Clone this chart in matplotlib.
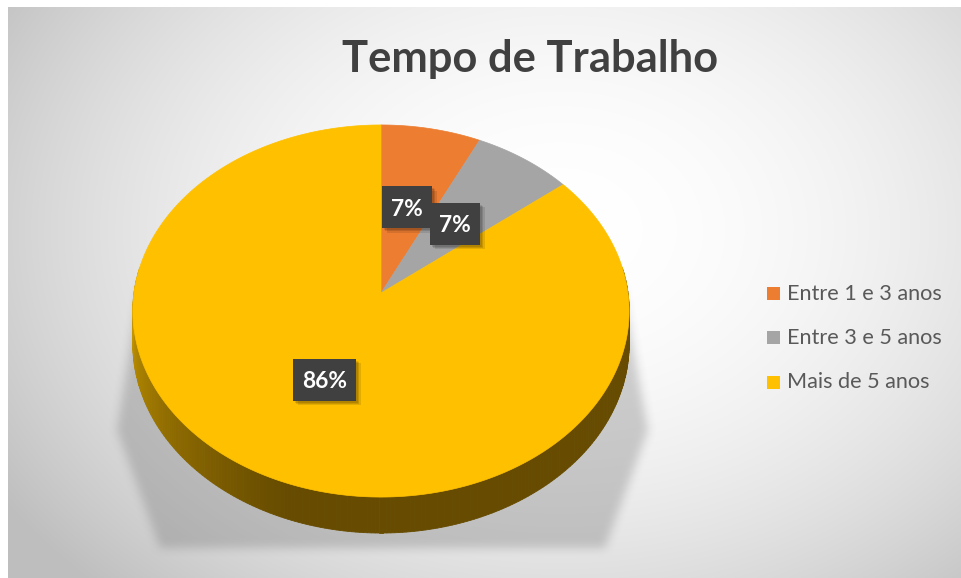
import numpy as np
import matplotlib
matplotlib.use('Agg')
import matplotlib.pyplot as plt
from matplotlib.patches import Polygon, Rectangle
from matplotlib.path import Path

title = "Tempo de Trabalho"
categories = ["Entre 1 e 3 anos", "Entre 3 e 5 anos", "Mais de 5 anos"]
values = [1, 1, 12]
colors = ["#ED7D31", "#A5A5A5", "#FFC000"]

W, H = 962, 578
fig = plt.figure(figsize=(W / 100, H / 100), dpi=100)
ax = fig.add_axes([0, 0, 1, 1])
ax.axis('off')

# ---- background (radial gradient) ----
yy, xx = np.mgrid[0:H, 0:W] + 0.5
r2 = ((xx - 560) / 560) ** 2 + ((yy - 230) / 420) ** 2
g = 255 - 46 * np.clip(r2, 0, 1.4)
bg = np.dstack([g, g, g]) / 255.0
bg[:7, :, :] = 1
bg[:, :8, :] = 1
ax.imshow(bg, extent=(0, W, H, 0), zorder=0, interpolation='bilinear')


def box_blur(a, r):
    for axis in (0, 1):
        c = np.cumsum(np.pad(a, [(r + 1, r) if i == axis else (0, 0) for i in range(2)], mode='edge'), axis=axis)
        if axis == 0:
            a = (c[2 * r + 1:, :] - c[:-2 * r - 1, :]) / (2 * r + 1)
        else:
            a = (c[:, 2 * r + 1:] - c[:, :-2 * r - 1]) / (2 * r + 1)
    return a


# ---- shadow under pie ----
shadow_poly = Path([(140, 285), (622, 285), (648, 430), (605, 548), (160, 548), (117, 430)])
pts = np.column_stack([xx.ravel(), yy.ravel()])
mask = shadow_poly.contains_points(pts).reshape(H, W).astype(float)
mask = box_blur(box_blur(mask, 5), 5)
sh = np.zeros((H, W, 4))
sh[..., :3] = 0.45
sh[..., 3] = mask * 0.33
ax.imshow(sh, extent=(0, W, H, 0), zorder=1, interpolation='bilinear')

# ---- 3D pie projection ----
cx, cy, A, B, k, th = 381, 293, 247, 184.3, 0.0968, 32.5


def proj(t_deg, r=1.0, dz=0.0):
    t = np.radians(t_deg)
    u = r * np.cos(t)
    v = r * np.sin(t)
    w = 1.0 / (1.0 - k * v)
    return cx + A * u * w, cy + (B * v + dz) * w


# side wall (front)
light = np.array(matplotlib.colors.to_rgb("#CC9C00"))
dark = np.array(matplotlib.colors.to_rgb("#664B00"))
ts = np.linspace(-8, 188, 240)
for t0, t1 in zip(ts[:-1], ts[1:]):
    x0, y0 = proj(t0)
    x1, y1 = proj(t1)
    x2, y2 = proj(t1, dz=th)
    x3, y3 = proj(t0, dz=th)
    tm = 0.5 * (t0 + t1)
    s = np.clip((180 - tm) / 70.0, 0, 1) ** 0.8
    col = light * (1 - s) + dark * s
    ax.add_patch(Polygon([(x0, y0), (x1, y1), (x2, y2), (x3, y3)], closed=True,
                         fc=col, ec=col, lw=0.6, zorder=2))

# top face wedges
total = float(sum(values))
start = -90.0
mids = []
for val, col in zip(values, colors):
    span = 360.0 * val / total
    angs = np.linspace(start, start + span, max(int(span * 2), 8))
    xs, ys = proj(angs)
    poly = [(cx, cy)] + list(zip(xs, ys))
    ax.add_patch(Polygon(poly, closed=True, fc=col, ec=col, lw=0.5, zorder=3))
    mids.append(start + span / 2)
    start += span

fig.canvas.draw()
renderer = fig.canvas.get_renderer()


def fitted_size(s, target_w, **kw):
    t = ax.text(0, 0, s, fontsize=20, **kw)
    w = t.get_window_extent(renderer).width
    t.remove()
    return 20 * target_w / w


font = ['Lato', 'Open Sans', 'DejaVu Sans']

# ---- data labels ----
lab_size = fitted_size("86%", 45, family=font, fontweight='bold')
for val, mid in zip(values, mids):
    lx, ly = proj(mid, 0.5)
    txt = f"{round(100 * val / total)}%"
    t = ax.text(lx, ly + 8.5, txt, fontsize=lab_size, family=font, fontweight='bold',
                color='white', ha='center', va='baseline', zorder=8)
    tw = t.get_window_extent(renderer).width
    bw, bh = tw + 18, 42
    for off, al in [(2, 0.12), (3, 0.12), (4.5, 0.10)]:
        ax.add_patch(Rectangle((lx - bw / 2 + off, ly - bh / 2 + off), bw, bh,
                               fc='black', ec='none', alpha=al, zorder=6))
    ax.add_patch(Rectangle((lx - bw / 2, ly - bh / 2), bw, bh, fc='#404040', ec='none', zorder=7))

# ---- title ----
tsize = fitted_size(title, 376, family=font, fontweight='bold')
ax.text(530, 72, title, fontsize=tsize, family=font, fontweight='bold',
        color='#404040', ha='center', va='baseline', zorder=9)

# ---- legend ----
leg_size = fitted_size(categories[0], 155, family=font)
for i, (cat, col) in enumerate(zip(categories, colors)):
    yc = 293 + 44.5 * i
    ax.add_patch(Rectangle((767, yc - 6.5), 13, 13, fc=col, ec='none', zorder=9))
    ax.text(787, yc + 6.5, cat, fontsize=leg_size, family=font, color='#595959',
            ha='left', va='baseline', zorder=9)

ax.set_xlim(0, W)
ax.set_ylim(H, 0)
fig.savefig('out.png', dpi=100)
